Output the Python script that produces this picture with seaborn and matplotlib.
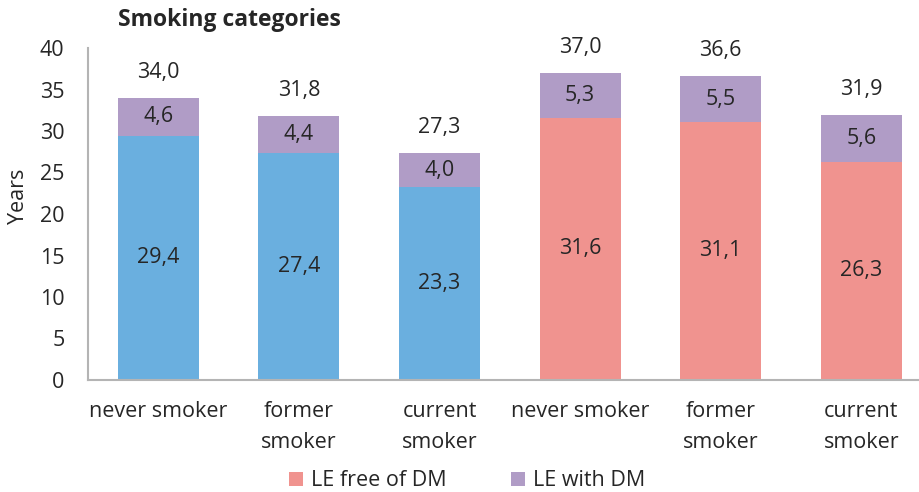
import matplotlib
matplotlib.use("Agg")
import matplotlib.pyplot as plt
import pandas as pd
import seaborn as sns
from matplotlib.patches import Patch

# Life expectancy (years) by smoking category, split into time free of / with diabetes
slots = [0, 1, 2, 3, 4, 5]
tick_labels = ["never smoker", "former\nsmoker", "current\nsmoker",
               "never smoker", "former\nsmoker", "current\nsmoker"]
sex = ["men", "men", "men", "women", "women", "women"]
le_free = [29.4, 27.4, 23.3, 31.6, 31.1, 26.3]
le_with = [4.6, 4.4, 4.0, 5.3, 5.5, 5.6]
le_total = [34.0, 31.8, 27.3, 37.0, 36.6, 31.9]

BLUE = "#6aafdf"
PINK = "#f0938f"
PURPLE = "#b09cc6"
TEXT = "#262626"
SPINE = "#b4b4b4"
FS = 15.5

df = pd.DataFrame({"slot": slots, "sex": sex, "free": le_free,
                   "with_dm": le_with, "total": le_total})

sns.set_theme(style="white")
plt.rcParams["font.family"] = ["Open Sans", "DejaVu Sans"]
plt.rcParams["text.color"] = TEXT

fig = plt.figure(figsize=(9.19, 4.92), dpi=100)
ax = fig.add_axes([88 / 919, 1 - 380 / 492, 843.6 / 919, 332 / 492])

bar_w = 0.576
# full-height bar (purple part shows above the free-of-DM segment)
sns.barplot(data=df, x="slot", y="total", color=PURPLE, width=bar_w,
            linewidth=0, saturation=1, ax=ax)
sns.barplot(data=df, x="slot", y="free", hue="sex",
            palette={"men": BLUE, "women": PINK}, dodge=False, width=bar_w,
            linewidth=0, saturation=1, legend=False, ax=ax)

fmt = lambda v: f"{v:.1f}".replace(".", ",")
for i in range(len(slots)):
    ax.text(i, le_free[i] / 2, fmt(le_free[i]), ha="center", va="center",
            fontsize=FS, color=TEXT)
    ax.text(i, le_free[i] + le_with[i] / 2, fmt(le_with[i]), ha="center",
            va="center", fontsize=FS, color=TEXT)
    ax.annotate(fmt(le_total[i]), (i, le_total[i]), xytext=(0, 18.5),
                textcoords="offset points", ha="center", va="center",
                fontsize=FS, color=TEXT)

ax.set_xlim(-0.5, 5.5)
ax.set_ylim(0, 40)
ax.set_yticks(range(0, 41, 5))
ax.set_xticks(slots)
ax.set_xticklabels(tick_labels, linespacing=1.63)
ax.tick_params(axis="y", direction="in", length=5, width=1.1, color=SPINE,
               pad=17, labelsize=FS, labelcolor=TEXT)
ax.tick_params(axis="x", length=0, pad=15, labelsize=FS, labelcolor=TEXT)
ax.set_xlabel("")
ax.set_ylabel("")
for side in ["top", "right"]:
    ax.spines[side].set_visible(False)
for side in ["left", "bottom"]:
    ax.spines[side].set_color(SPINE)
    ax.spines[side].set_linewidth(1.5)

fig.text(19 / 919, 1 - 196 / 492, "Years", rotation=90, ha="center",
         va="center", fontsize=FS, color=TEXT)
fig.text(118 / 919, 1 - 20 / 492, "Smoking categories", ha="left",
         va="center", fontsize=16.5, fontweight="bold", color=TEXT)

handles = [Patch(facecolor=PINK, edgecolor="none"),
           Patch(facecolor=PURPLE, edgecolor="none")]
fig.legend(handles, ["LE free of DM", "LE with DM"], loc="center",
           bbox_to_anchor=(467 / 919, 1 - 481 / 492), ncol=2, frameon=False,
           fontsize=FS, handlelength=0.65, handleheight=0.65, handletextpad=0.35,
           columnspacing=3.0, borderaxespad=0.0, borderpad=0.1)

fig.savefig("out.png", dpi=100)
